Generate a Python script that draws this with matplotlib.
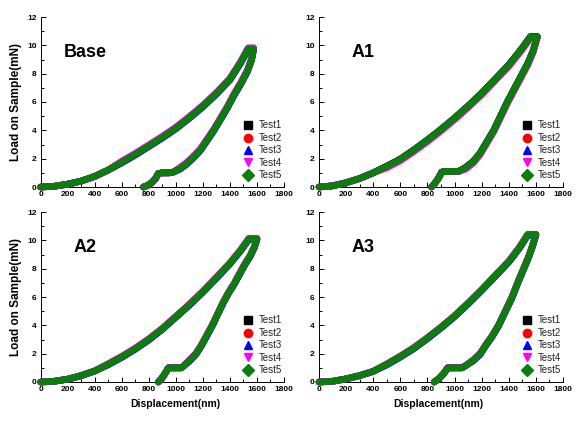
import matplotlib.pyplot as plt
from matplotlib.lines import Line2D
from matplotlib.ticker import MultipleLocator

plt.rcParams['font.family'] = ['Liberation Sans', 'DejaVu Sans']

OUT = "out.png"

# load-displacement paths (loading -> hold -> unloading -> hold at ~1 mN -> unload)
base_disp = [0, 100, 200, 300, 400, 500, 600, 700, 800, 900, 1000, 1100, 1200, 1300,
             1400, 1480, 1535, 1575, 1560, 1530, 1480, 1430, 1380, 1330, 1280, 1230,
             1180, 1130, 1080, 1030, 980, 950, 900, 870, 850, 820, 790, 760]
base_load = [0.0, 0.05, 0.2, 0.42, 0.75, 1.2, 1.75, 2.3, 2.9, 3.5, 4.15, 4.9, 5.7, 6.6,
             7.6, 8.8, 9.75, 9.75, 9.0, 8.2, 7.3, 6.5, 5.6, 4.8, 4.0, 3.3,
             2.6, 2.1, 1.65, 1.3, 1.05, 1.0, 1.0, 0.95, 0.6, 0.3, 0.1, 0.0]

a1_disp = [0, 100, 200, 300, 400, 500, 600, 700, 800, 900, 1000, 1100, 1200, 1300,
           1400, 1500, 1560, 1610, 1580, 1540, 1490, 1440, 1390, 1340, 1290, 1240,
           1190, 1140, 1080, 1030, 980, 930, 905, 880, 850, 830]
a1_load = [0.0, 0.08, 0.3, 0.6, 1.0, 1.45, 1.95, 2.6, 3.3, 4.05, 4.85, 5.7, 6.6, 7.6,
           8.6, 9.8, 10.6, 10.6, 9.6, 8.7, 7.8, 6.9, 6.0, 5.0, 4.0, 3.2,
           2.4, 1.8, 1.35, 1.1, 1.1, 1.1, 1.05, 0.6, 0.2, 0.0]

a2_disp = [0, 100, 200, 300, 400, 500, 600, 700, 800, 900, 1000, 1100, 1200, 1300,
           1400, 1480, 1540, 1600, 1580, 1550, 1510, 1470, 1430, 1390, 1350, 1310,
           1270, 1230, 1190, 1150, 1100, 1060, 1040, 990, 945, 920, 895, 870]
a2_load = [0.0, 0.05, 0.2, 0.45, 0.78, 1.25, 1.77, 2.35, 3.0, 3.75, 4.6, 5.45, 6.37, 7.35,
           8.37, 9.3, 10.1, 10.1, 9.5, 8.9, 8.3, 7.6, 6.9, 6.3, 5.6, 4.8,
           4.0, 3.3, 2.6, 2.0, 1.5, 1.15, 1.0, 1.0, 1.0, 0.6, 0.25, 0.0]

a3_disp = [0, 100, 200, 300, 400, 500, 600, 700, 800, 900, 1000, 1100, 1200, 1300,
           1400, 1480, 1540, 1600, 1575, 1545, 1510, 1470, 1425, 1375, 1325, 1275,
           1230, 1190, 1140, 1090, 1055, 1000, 950, 920, 880, 850]
a3_load = [0.0, 0.05, 0.22, 0.45, 0.75, 1.25, 1.8, 2.4, 3.1, 3.85, 4.65, 5.55, 6.5, 7.5,
           8.5, 9.5, 10.4, 10.4, 9.6, 8.8, 8.0, 7.1, 6.0, 5.0, 4.0, 3.2,
           2.6, 2.0, 1.55, 1.2, 1.0, 1.0, 1.0, 0.6, 0.2, 0.0]

# small load offsets (mN) of Test1..Test5 seen at the band edges
base_shift = [0, 0.03, -0.05, 0.08, 0]
a1_shift = [0.03, 0, 0, -0.1, 0]
a2_shift = [0, 0.02, -0.04, 0.05, 0]
a3_shift = [0, 0.02, -0.05, 0.03, 0]

tests = ["Test1", "Test2", "Test3", "Test4", "Test5"]
colors = ["black", "red", "blue", "magenta", "#0a7d0a"]
markers = ["s", "o", "^", "v", "D"]

panels = [
    ("Base", base_disp, base_load, base_shift, [40.7, 17, 284, 187]),
    ("A1", a1_disp, a1_load, a1_shift, [319, 17, 563, 187]),
    ("A2", a2_disp, a2_load, a2_shift, [40.7, 212, 284, 382]),
    ("A3", a3_disp, a3_load, a3_shift, [319, 212, 563, 382]),
]

W, H = 584, 428
fig = plt.figure(figsize=(W / 100, H / 100), dpi=100)

for name, disp, load, shift, (x0, y0, x1, y1) in panels:
    ax = fig.add_axes([x0 / W, 1 - y1 / H, (x1 - x0) / W, (y1 - y0) / H])
    for i in range(5):
        ax.plot(disp, [v + shift[i] if v > 1.2 else v for v in load], color=colors[i],
                lw=4.8, solid_joinstyle="round", solid_capstyle="round",
                clip_on=False, zorder=2 + i)
    ax.set_xlim(0, 1800)
    ax.set_ylim(0, 12)
    ax.xaxis.set_major_locator(MultipleLocator(200))
    ax.xaxis.set_minor_locator(MultipleLocator(100))
    ax.yaxis.set_major_locator(MultipleLocator(2))
    ax.yaxis.set_minor_locator(MultipleLocator(1))
    ax.tick_params(which="both", direction="in", width=0.7, labelsize=6, pad=3)
    ax.tick_params(which="major", length=3.5)
    ax.tick_params(which="minor", length=2)
    for lab in ax.get_xticklabels() + ax.get_yticklabels():
        lab.set_fontweight("bold")
    ax.spines["top"].set_visible(False)
    ax.spines["right"].set_visible(False)
    for s in ("left", "bottom"):
        ax.spines[s].set_linewidth(0.7)
    ax.text(0.095 if name == "Base" else 0.135, 0.79, name, transform=ax.transAxes,
            fontsize=13, fontweight="bold", va="center", ha="left")

    handles = [Line2D([], [], ls="none", marker=markers[i], color=colors[i],
                      markersize=6) for i in range(5)]
    ax.legend(handles, tests, loc="lower left", bbox_to_anchor=(0.8, 0.0),
              frameon=False, fontsize=7, labelspacing=0.25, handletextpad=0.5,
              handlelength=1.2, borderpad=0.2, labelcolor="#222222")

    if x0 < 100:
        ax.set_ylabel("Load on Sample(mN)", fontsize=8.5, fontweight="bold")
        ax.yaxis.set_label_coords(-0.075, 0.5)
    if y0 > 200:
        ax.set_xlabel("Displacement(nm)", fontsize=7.5, fontweight="bold")
        ax.xaxis.set_label_coords(0.554 if x0 < 100 else 0.49, -0.1)

plt.savefig(OUT, dpi=100)
plt.close()
